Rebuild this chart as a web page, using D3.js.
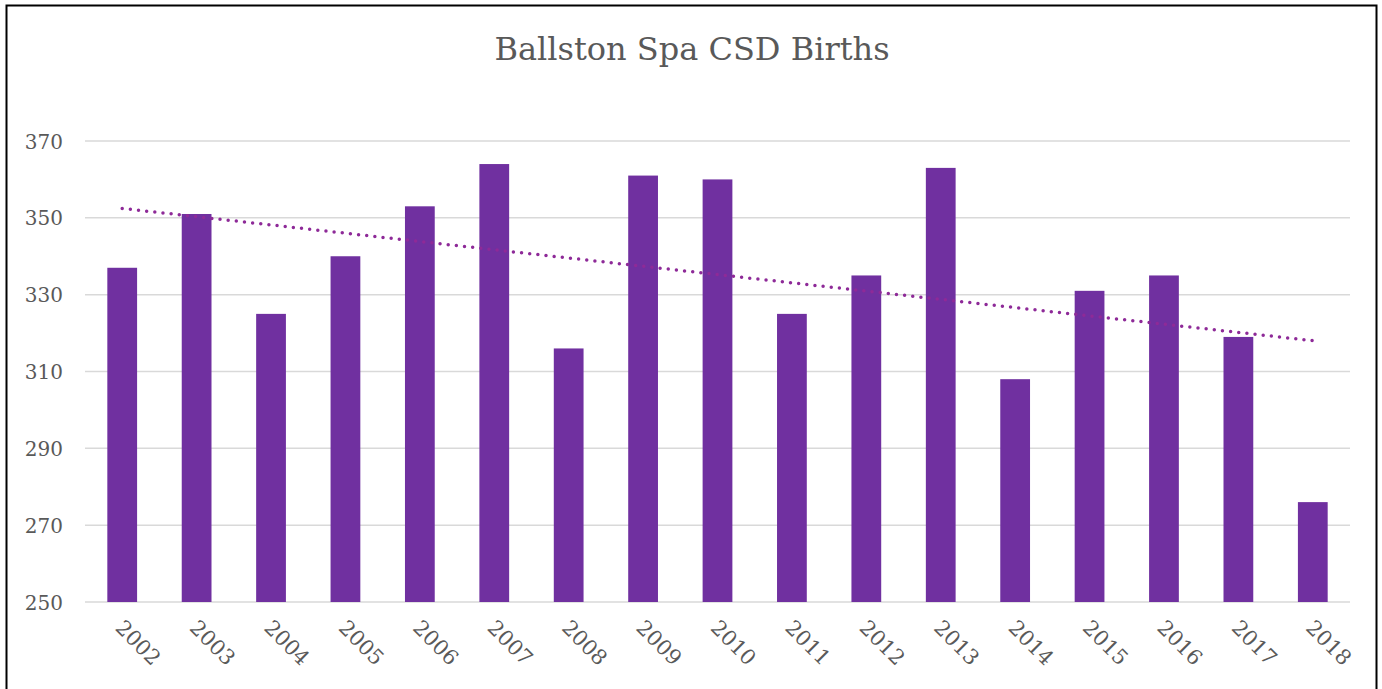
<!DOCTYPE html>
<html>
<head>
<meta charset="utf-8">
<script src="https://cdn.jsdelivr.net/npm/d3@7"></script>
<style>
  body { margin: 0; background: #fff; }
  svg text { font-family: Rockwell, "DejaVu Serif", serif; fill: #595959; }
</style>
</head>
<body>
<div id="chart"></div>
<script>
const width = 1382;
const height = 689;

// data
const years = ['2002', '2003', '2004', '2005', '2006', '2007', '2008', '2009', '2010',
  '2011', '2012', '2013', '2014', '2015', '2016', '2017', '2018'];
const births = [337, 351, 325, 340, 353, 364, 316, 361, 360, 325, 335, 363, 308, 331, 335, 319, 276];
const yTicks = [250, 270, 290, 310, 330, 350, 370];

const plot = { left: 85, right: 1350, top: 141, bottom: 602 };

const svg = d3
  .select('#chart')
  .append('svg')
  .attr('width', width)
  .attr('height', height);

// chart border
svg
  .append('rect')
  .attr('x', 6.5)
  .attr('y', 5.5)
  .attr('width', 1370)
  .attr('height', 700)
  .attr('fill', 'none')
  .attr('stroke', '#000')
  .attr('stroke-width', 2);

const xScale = d3
  .scaleBand()
  .domain(years)
  .range([plot.left, plot.right])
  .paddingInner(0.6)
  .paddingOuter(0.3);

const yScale = d3.scaleLinear().domain([250, 370]).range([plot.bottom, plot.top]);

// gridlines
svg
  .append('g')
  .selectAll('line')
  .data(yTicks)
  .enter()
  .append('line')
  .attr('x1', plot.left)
  .attr('x2', plot.right)
  .attr('y1', (d) => yScale(d))
  .attr('y2', (d) => yScale(d))
  .attr('stroke', '#d9d9d9')
  .attr('stroke-width', 1.5);

// y axis labels
const yAxis = svg
  .append('g')
  .attr('transform', `translate(${plot.left - 22},0)`)
  .call(d3.axisLeft(yScale).tickValues(yTicks).tickSize(0).tickPadding(0));
yAxis.select('.domain').remove();
yAxis.selectAll('text').attr('font-size', 20).attr('dy', '0.35em');

// bars
svg
  .append('g')
  .selectAll('rect')
  .data(births)
  .enter()
  .append('rect')
  .attr('x', (d, i) => xScale(years[i]))
  .attr('y', (d) => yScale(d))
  .attr('width', xScale.bandwidth())
  .attr('height', (d) => yScale(250) - yScale(d))
  .attr('fill', '#7030a0');

// linear trendline (least squares)
const n = births.length;
const xs = d3.range(n);
const mx = d3.mean(xs);
const my = d3.mean(births);
const slope =
  d3.sum(xs, (x, i) => (x - mx) * (births[i] - my)) / d3.sum(xs, (x) => (x - mx) * (x - mx));
const intercept = my - slope * mx;
const trend = [0, n - 1].map((i) => ({ year: years[i], v: intercept + slope * i }));

svg
  .append('path')
  .datum(trend)
  .attr('fill', 'none')
  .attr('stroke', '#8e2a98')
  .attr('stroke-width', 3.5)
  .attr('stroke-linecap', 'round')
  .attr('stroke-dasharray', '0 8.2')
  .attr(
    'd',
    d3
      .line()
      .x((d) => xScale(d.year) + xScale.bandwidth() / 2)
      .y((d) => yScale(d.v))
  );

// x axis labels, rotated
const xAxis = svg
  .append('g')
  .attr('transform', `translate(0,${plot.bottom})`)
  .call(d3.axisBottom(xScale).tickSize(0).tickPadding(0));
xAxis.select('.domain').remove();
xAxis
  .selectAll('text')
  .attr('font-size', 21)
  .attr('text-anchor', 'start')
  .attr('dy', null)
  .attr('y', 0)
  .attr('transform', 'translate(-8,27) rotate(45)');

// title
svg
  .append('text')
  .attr('x', 692)
  .attr('y', 60)
  .attr('text-anchor', 'middle')
  .attr('font-size', 32)
  .text('Ballston Spa CSD Births');
</script>
</body>
</html>
